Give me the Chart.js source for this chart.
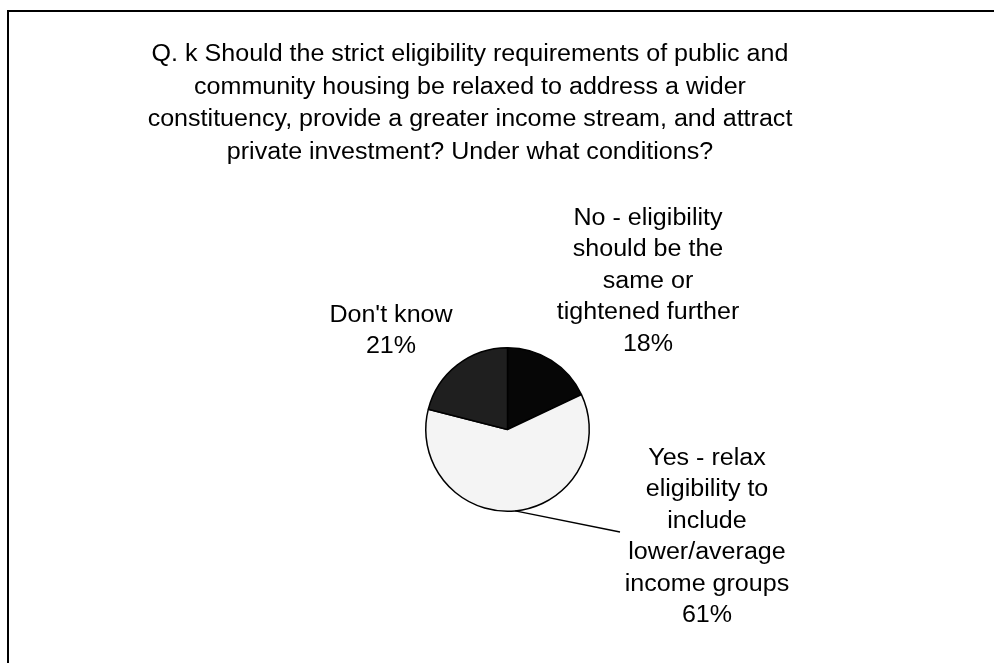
<!DOCTYPE html>
<html>
<head>
<meta charset="utf-8">
<title>Eligibility requirements</title>
<script src="https://cdn.jsdelivr.net/npm/chart.js@4/dist/chart.umd.min.js"></script>
<style>
  html, body { margin: 0; padding: 0; background: #fff; overflow: hidden; }
  #frame {
    position: absolute; left: 7px; top: 10px;
    width: 1100px; height: 800px;
    border: 2px solid #000;
  }
  #chart { position: absolute; left: 0; top: 0; }
</style>
</head>
<body>
<div id="frame"></div>
<canvas id="chart" width="994" height="663"></canvas>
<script>
// Survey answers, clockwise from twelve o'clock
let categories = [
    ["No - eligibility", "should be the", "same or", "tightened further"],
    ["Yes - relax", "eligibility to", "include", "lower/average", "income groups"],
    ["Don't know"]
];
let shares = [18, 61, 21];
let sliceColors = ["#060606", "#f4f4f4", "#1f1f1f"];

let titleLines = [
    "Q. k Should the strict eligibility requirements of public and",
    "community housing be relaxed to address a wider",
    "constituency, provide a greater income stream, and attract",
    "private investment? Under what conditions?"
];

// Label blocks: centre x, baseline of the first line, optional leader end
let labelLayout = [
    { x: 648, y: 225, leader: false },
    { x: 707, y: 465, leader: true, lx: 620, ly: 532 },
    { x: 391, y: 322, leader: false }
];

let font = "23px 'Liberation Sans', Arial, sans-serif";
let stretch = 1.09;
let lineGap = 31.4;

function stretchedText(ctx, text, x, y) {
    ctx.save();
    ctx.translate(x, y);
    ctx.scale(stretch, 1);
    ctx.fillText(text, 0, 0);
    ctx.restore();
}

// Title and slice labels
let textPlugin = {
    id: "textPlugin",
    afterDraw(chart) {
        let ctx = chart.ctx;
        ctx.save();
        ctx.font = font;
        ctx.fillStyle = "#000";
        ctx.textAlign = "center";
        ctx.textBaseline = "alphabetic";

        titleLines.forEach((line, i) => {
            stretchedText(ctx, line, 470, 61 + i * 32.7);
        });

        let arcs = chart.getDatasetMeta(0).data;
        categories.forEach((lines, i) => {
            let pos = labelLayout[i];
            let all = lines.concat([shares[i] + "%"]);
            all.forEach((line, j) => {
                stretchedText(ctx, line, pos.x, pos.y + j * lineGap);
            });

            if (pos.leader) {
                let arc = arcs[i];
                let mid = (arc.startAngle + arc.endAngle) / 2;
                let sx = arc.x + Math.cos(mid) * arc.outerRadius;
                let sy = arc.y + Math.sin(mid) * arc.outerRadius;
                ctx.beginPath();
                ctx.moveTo(sx, sy);
                ctx.lineTo(pos.lx, pos.ly);
                ctx.strokeStyle = "#000";
                ctx.lineWidth = 1.5;
                ctx.stroke();
            }
        });
        ctx.restore();
    }
};

let chart = new Chart(document.getElementById("chart"), {
    type: "pie",
    data: {
        labels: categories.map(c => c.join(" ")),
        datasets: [{
            data: shares,
            backgroundColor: sliceColors,
            borderColor: "#000",
            borderWidth: 1.5
        }]
    },
    options: {
        responsive: false,
        animation: false,
        layout: {
            padding: { left: 425, right: 404, top: 347, bottom: 151 }
        },
        plugins: {
            legend: { display: false },
            tooltip: { enabled: false }
        }
    },
    plugins: [textPlugin]
});
</script>
</body>
</html>
